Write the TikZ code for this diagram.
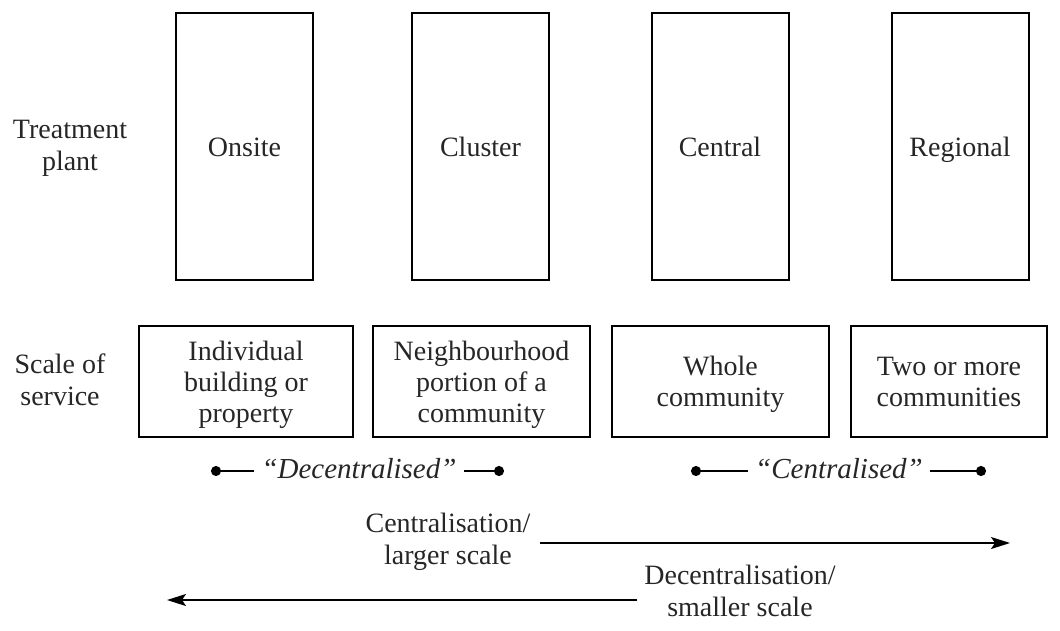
\documentclass[tikz,border=0pt]{standalone}
\usepackage{fontspec}
\setmainfont{Liberation Serif}
\usetikzlibrary{arrows.meta}
\begin{document}
\begin{tikzpicture}[x=1pt,y=-1pt,
  plantbox/.style={draw, line width=2pt, minimum width=137pt, minimum height=267pt, inner sep=0pt},
  scalebox/.style={draw, line width=2pt, minimum height=111pt, inner sep=0pt, align=center},
  lab/.style={font=\fontsize{28}{32}\selectfont, align=center, inner sep=0pt, text=black!85, yshift=-3.5pt},
  boxlab/.style={lab, font=\fontsize{28}{31}\selectfont},
  quotelab/.style={lab, font=\fontsize{29}{32}\selectfont\itshape},
  bul/.style={line width=2pt, {Circle[length=10pt]}-},
  bigarrow/.style={line width=1.5pt, -{Stealth[length=19pt,width=12pt,inset=4pt]}}
]
\useasboundingbox (0,0) rectangle (1060,630);
% top boxes
\node[plantbox] (onsite) at (244.5,146.5) {};
\node[plantbox] (cluster) at (480.5,146.5) {};
\node[plantbox] (central) at (720,146.5) {};
\node[plantbox] (regional) at (960,146.5) {};
\node[lab] (lonsite) at (onsite) {\strut Onsite};
\node[lab] (lcluster) at (cluster) {\strut Cluster};
\node[lab] (lcentral) at (central) {\strut Central};
\node[lab] (lregional) at (regional) {\strut Regional};
\node[lab] (tp) at (70,145) {\strut Treatment\\\strut plant};
% bottom boxes
\node[scalebox, minimum width=214pt] (s1) at (246,381.5) {};
\node[scalebox, minimum width=217pt] (s2) at (481.5,381.5) {};
\node[scalebox, minimum width=217pt] (s3) at (720.5,381.5) {};
\node[scalebox, minimum width=196pt] (s4) at (949,381.5) {};
\node[boxlab] (l1) at (s1) {\strut Individual\\\strut building or\\\strut property};
\node[boxlab] (l2) at (s2) {\strut Neighbourhood\\\strut portion of a\\\strut community};
\node[boxlab] (l3) at (s3) {\strut Whole\\\strut community};
\node[boxlab] (l4) at (s4) {\strut Two or more\\\strut communities};
\node[lab] (sos) at (60,380) {\strut Scale of\\\strut service};
% decentralised / centralised
\node[quotelab] (dec) at (359,469) {\strut``Decentralised''};
\coordinate (d1) at (211,471);
\coordinate (d2) at (504,471);
\draw[bul] (d1) -- ([xshift=-7pt]dec.west |- d1);
\draw[bul] (d2) -- ([xshift=7pt]dec.east |- d2);
\node[quotelab] (cen) at (839,469) {\strut``Centralised''};
\coordinate (c1) at (691,471);
\coordinate (c2) at (986,471);
\draw[bul] (c1) -- ([xshift=-7pt]cen.west |- c1);
\draw[bul] (c2) -- ([xshift=7pt]cen.east |- c2);
% arrows
\node[lab] (ctext) at (448,539) {\strut Centralisation/\\\strut larger scale};
\coordinate (a1) at (540,543);
\coordinate (a2) at (1010,543);
\draw[bigarrow] (a1) -- (a2);
\node[lab] (dtext) at (740,591) {\strut Decentralisation/\\\strut smaller scale};
\coordinate (b1) at (637,600);
\coordinate (b2) at (167,600);
\draw[bigarrow] (b1) -- (b2);
\end{tikzpicture}
\end{document}
